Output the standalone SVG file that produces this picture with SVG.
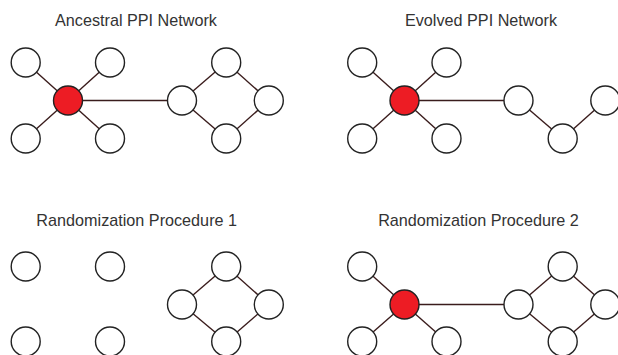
<svg xmlns="http://www.w3.org/2000/svg" width="618" height="355" viewBox="0 0 618 355">
<style>
.t{font-family:"Liberation Sans",Arial,sans-serif;font-size:16.2px;fill:#333;text-anchor:middle}
.n{fill:#fff;stroke:#222;stroke-width:1.4}
.h{fill:#ed1c24;stroke:#222;stroke-width:1.4}
.e{stroke:#3a1c1c;stroke-width:1.4;fill:none}
</style>
<rect width="618" height="355" fill="#fff"/>
<g id="titles">
<text class="t" x="136" y="25.5">Ancestral PPI Network</text>
<text class="t" x="481" y="25.5">Evolved PPI Network</text>
<text class="t" x="136.7" y="225.5">Randomization Procedure 1</text>
<text class="t" x="478.5" y="225.5">Randomization Procedure 2</text>
</g>
<g id="connectors">
<line class="e" x1="68" y1="100.5" x2="25.7" y2="62.5"/>
<line class="e" x1="68" y1="100.5" x2="110" y2="62.5"/>
<line class="e" x1="68" y1="100.5" x2="25.7" y2="138.5"/>
<line class="e" x1="68" y1="100.5" x2="110" y2="138.5"/>
<line class="e" x1="68" y1="100.5" x2="182" y2="100.5"/>
<line class="e" x1="182" y1="100.5" x2="226.2" y2="62.5"/>
<line class="e" x1="226.2" y1="62.5" x2="268.8" y2="100.5"/>
<line class="e" x1="268.8" y1="100.5" x2="226.2" y2="138.5"/>
<line class="e" x1="226.2" y1="138.5" x2="182" y2="100.5"/>
<line class="e" x1="404.5" y1="100.5" x2="362.2" y2="62.5"/>
<line class="e" x1="404.5" y1="100.5" x2="446.5" y2="62.5"/>
<line class="e" x1="404.5" y1="100.5" x2="362.2" y2="138.5"/>
<line class="e" x1="404.5" y1="100.5" x2="446.5" y2="138.5"/>
<line class="e" x1="404.5" y1="100.5" x2="518.5" y2="100.5"/>
<line class="e" x1="518.5" y1="100.5" x2="562.7" y2="138.5"/>
<line class="e" x1="562.7" y1="138.5" x2="605.3" y2="100.5"/>
<line class="e" x1="182" y1="304.5" x2="226.2" y2="266.5"/>
<line class="e" x1="226.2" y1="266.5" x2="268.8" y2="304.5"/>
<line class="e" x1="268.8" y1="304.5" x2="226.2" y2="341.5"/>
<line class="e" x1="226.2" y1="341.5" x2="182" y2="304.5"/>
<line class="e" x1="404.5" y1="304.5" x2="362.2" y2="266.5"/>
<line class="e" x1="404.5" y1="304.5" x2="362.2" y2="341.5"/>
<line class="e" x1="404.5" y1="304.5" x2="446.5" y2="341.5"/>
<line class="e" x1="404.5" y1="304.5" x2="518.5" y2="304.5"/>
<line class="e" x1="518.5" y1="304.5" x2="562.7" y2="266.5"/>
<line class="e" x1="562.7" y1="266.5" x2="605.3" y2="304.5"/>
<line class="e" x1="605.3" y1="304.5" x2="562.7" y2="341.5"/>
<line class="e" x1="562.7" y1="341.5" x2="518.5" y2="304.5"/>
</g>
<g id="a-tl"><circle class="n" cx="25.7" cy="62.5" r="14.5"/></g>
<g id="a-tr"><circle class="n" cx="110" cy="62.5" r="14.5"/></g>
<g id="a-hub"><circle class="h" cx="68" cy="100.5" r="14.5"/></g>
<g id="a-bl"><circle class="n" cx="25.7" cy="138.5" r="14.5"/></g>
<g id="a-br"><circle class="n" cx="110" cy="138.5" r="14.5"/></g>
<g id="a-sl"><circle class="n" cx="182" cy="100.5" r="14.5"/></g>
<g id="a-st"><circle class="n" cx="226.2" cy="62.5" r="14.5"/></g>
<g id="a-sr"><circle class="n" cx="268.8" cy="100.5" r="14.5"/></g>
<g id="a-sb"><circle class="n" cx="226.2" cy="138.5" r="14.5"/></g>
<g id="e-tl"><circle class="n" cx="362.2" cy="62.5" r="14.5"/></g>
<g id="e-tr"><circle class="n" cx="446.5" cy="62.5" r="14.5"/></g>
<g id="e-hub"><circle class="h" cx="404.5" cy="100.5" r="14.5"/></g>
<g id="e-bl"><circle class="n" cx="362.2" cy="138.5" r="14.5"/></g>
<g id="e-br"><circle class="n" cx="446.5" cy="138.5" r="14.5"/></g>
<g id="e-cl"><circle class="n" cx="518.5" cy="100.5" r="14.5"/></g>
<g id="e-cb"><circle class="n" cx="562.7" cy="138.5" r="14.5"/></g>
<g id="e-cr"><circle class="n" cx="605.3" cy="100.5" r="14.5"/></g>
<g id="r1-tl"><circle class="n" cx="25.7" cy="266.5" r="14.5"/></g>
<g id="r1-tr"><circle class="n" cx="110" cy="266.5" r="14.5"/></g>
<g id="r1-bl"><circle class="n" cx="25.7" cy="341.5" r="14.5"/></g>
<g id="r1-br"><circle class="n" cx="110" cy="341.5" r="14.5"/></g>
<g id="r1-sl"><circle class="n" cx="182" cy="304.5" r="14.5"/></g>
<g id="r1-st"><circle class="n" cx="226.2" cy="266.5" r="14.5"/></g>
<g id="r1-sr"><circle class="n" cx="268.8" cy="304.5" r="14.5"/></g>
<g id="r1-sb"><circle class="n" cx="226.2" cy="341.5" r="14.5"/></g>
<g id="r2-tl"><circle class="n" cx="362.2" cy="266.5" r="14.5"/></g>
<g id="r2-hub"><circle class="h" cx="404.5" cy="304.5" r="14.5"/></g>
<g id="r2-bl"><circle class="n" cx="362.2" cy="341.5" r="14.5"/></g>
<g id="r2-br"><circle class="n" cx="446.5" cy="341.5" r="14.5"/></g>
<g id="r2-sl"><circle class="n" cx="518.5" cy="304.5" r="14.5"/></g>
<g id="r2-st"><circle class="n" cx="562.7" cy="266.5" r="14.5"/></g>
<g id="r2-sr"><circle class="n" cx="605.3" cy="304.5" r="14.5"/></g>
<g id="r2-sb"><circle class="n" cx="562.7" cy="341.5" r="14.5"/></g>
</svg>
